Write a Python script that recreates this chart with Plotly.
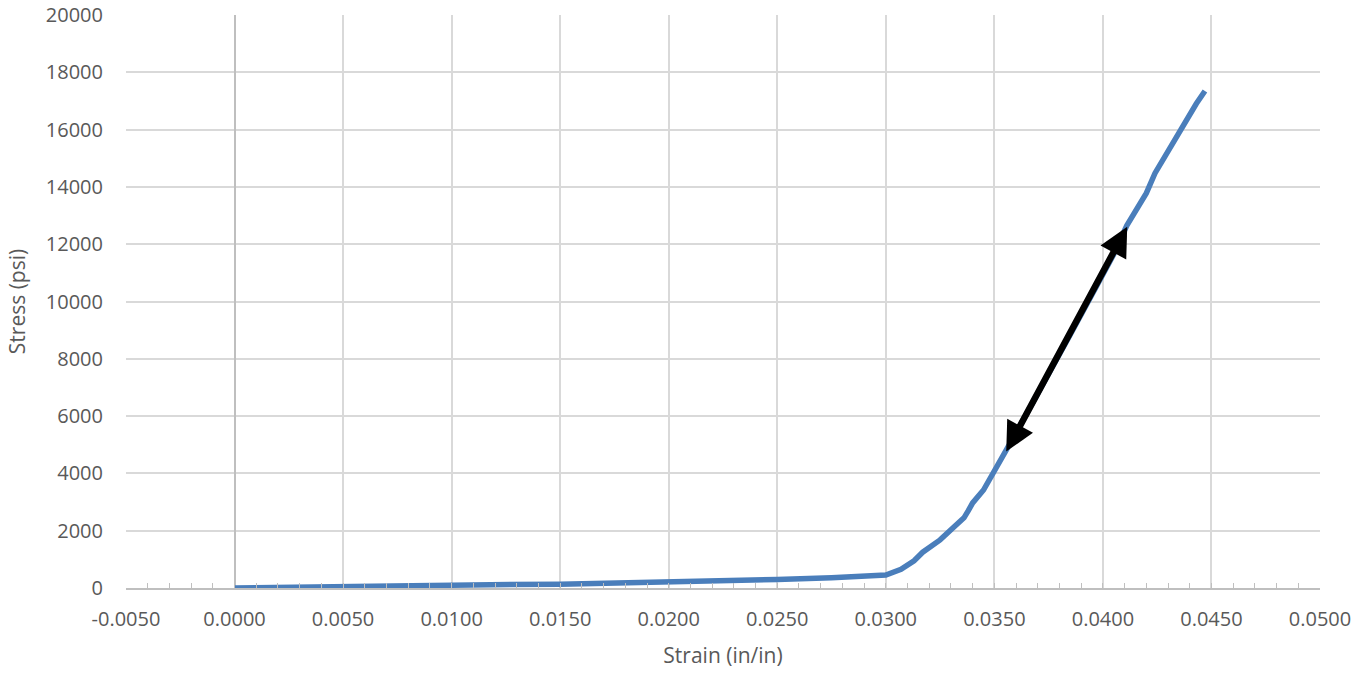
import plotly.graph_objects as go

# Stress-strain curve (strain in in/in, stress in psi)
strain = [0.0000, 0.0020, 0.0050, 0.0100, 0.0150, 0.0200, 0.0225, 0.0250, 0.0275,
          0.0300, 0.0307, 0.0313, 0.0317, 0.0325, 0.0331, 0.0336, 0.0338, 0.0340,
          0.0345, 0.0350, 0.0355, 0.0365, 0.0375, 0.0385, 0.0395, 0.0405, 0.0411,
          0.0420, 0.0424, 0.0431, 0.0439, 0.0443, 0.0447]
stress = [0, 25, 60, 100, 135, 200, 260, 300, 360,
          450, 650, 950, 1250, 1680, 2100, 2450, 2700, 2970,
          3420, 4050, 4750, 6100, 7450, 8850, 10250, 11650, 12650,
          13780, 14480, 15400, 16450, 16900, 17350]

# Double-headed arrow marking the linear (elastic) region
arrow_start = (0.03551, 4711)
arrow_end = (0.04112, 12609)

x_ticks = [-0.005 + 0.005 * i for i in range(12)]
x_tick_text = [f"{v:.4f}" for v in x_ticks]
y_ticks = list(range(0, 20001, 2000))
y_tick_text = [str(v) for v in y_ticks]

font_family = "Open Sans, Noto Sans, sans-serif"
text_color = "#595959"
grid_color = "#d9d9d9"
axis_color = "#bfbfbf"

fig = go.Figure()
fig.add_trace(go.Scatter(
    x=strain, y=stress, mode="lines",
    line=dict(color="#4a7ebb", width=5.5),
    showlegend=False, hoverinfo="skip",
))

fig.add_annotation(
    x=arrow_end[0], y=arrow_end[1], xref="x", yref="y",
    ax=arrow_start[0], ay=arrow_start[1], axref="x", ayref="y",
    showarrow=True, arrowside="end+start", arrowhead=2,
    arrowsize=0.9, arrowwidth=6.5, arrowcolor="#000000", text="",
)

fig.update_layout(
    width=1371, height=675,
    margin=dict(l=126, r=51, t=15, b=87),
    paper_bgcolor="white", plot_bgcolor="white",
    font=dict(family=font_family, color=text_color, size=20),
    xaxis=dict(
        range=[-0.005, 0.05], tickvals=x_ticks, ticktext=x_tick_text,
        automargin=False,
        showgrid=True, gridcolor=grid_color, gridwidth=1.5,
        zeroline=True, zerolinecolor=axis_color, zerolinewidth=1.5,
        showline=True, linecolor=axis_color, linewidth=1.5,
        ticks="inside", ticklen=5, tickcolor=axis_color,
        minor=dict(dtick=0.001, ticks="inside", ticklen=5, tickcolor=axis_color, showgrid=False),
        ticklabelstandoff=12,
        title=dict(text="Strain (in/in)", font=dict(size=21, color=text_color), standoff=18),
        tickfont=dict(size=20, color=text_color),
    ),
    yaxis=dict(
        range=[0, 20000], tickvals=y_ticks, ticktext=y_tick_text,
        automargin=False,
        showgrid=True, gridcolor=grid_color, gridwidth=1.5,
        zeroline=False, showline=False,
        ticks="", ticklabelstandoff=22,
        title=dict(text="Stress (psi)", font=dict(size=21, color=text_color), standoff=14),
        tickfont=dict(size=20, color=text_color),
    ),
)

fig.write_html("out.html")
